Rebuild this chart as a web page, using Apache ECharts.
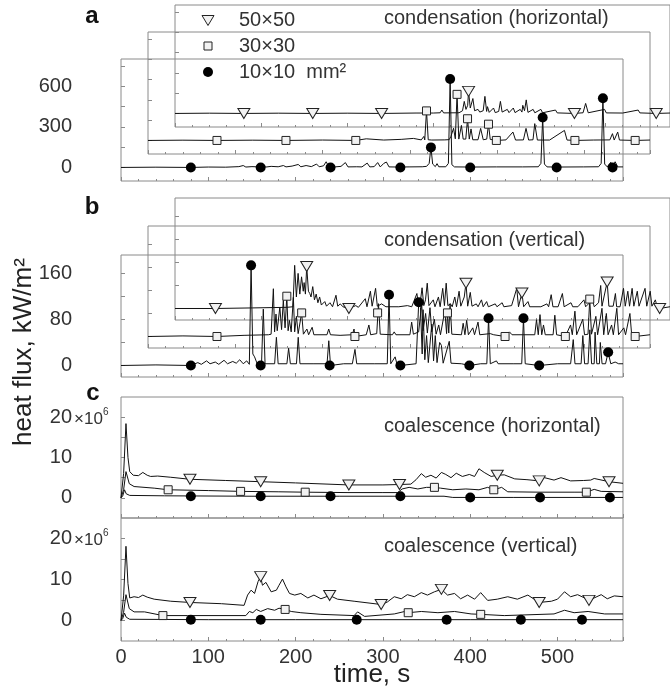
<!DOCTYPE html>
<html>
<head>
<meta charset="utf-8">
<script src="https://cdn.jsdelivr.net/npm/echarts@6/dist/echarts.min.js"></script>
<style>
  html, body { margin: 0; padding: 0; background: #fff; }
  #chart { width: 670px; height: 688px; }
</style>
</head>
<body>
<div id="chart"></div>
<script>
// tick labels
const aLabels = [0, 300, 600];
const bLabels = [0, 80, 160];
const cLabels = [0, 10, 20];
const aTicks = [0, 150, 300, 450, 600, 750];
const bTicks = [0, 40, 80, 120, 160];
const cTicks = [0, 5, 10, 15, 20];
const sizeNames = ['50×50', '30×30', '10×10  mm²'];

// a: condensation (horizontal)  [time s, kW/m2]
const condH10 = [[0,0],[40,2],[80,0],[100,3],[120,2],[135,6],[140,14],[143,3],[150,6],[158,4],[163,12],[166,3],[172,8],[180,5],[186,14],[189,4],[196,10],[203,22],[206,5],[212,14],[218,6],[224,25],[227,5],[232,12],[235,42],[238,6],[245,4],[252,8],[257,36],[260,4],[270,5],[276,4],[282,32],[285,4],[290,6],[294,36],[297,4],[301,30],[304,40],[307,4],[318,3],[330,4],[345,5],[350,8],[353,30],[355,148],[357,25],[360,6],[362,28],[364,5],[372,5],[375,30],[377,652],[379,20],[382,4],[400,3],[430,4],[460,4],[478,5],[481,30],[483,368],[485,25],[488,4],[500,3],[530,4],[547,5],[550,30],[552,510],[554,25],[557,4],[561,38],[563,4],[566,42],[569,4],[575,4]];
const condH10Marks = [[80,0],[160,0],[240,0],[320,0],[355,148],[377,652],[400,0],[483,368],[499,0],[552,510],[563,0]];
const condH30 = [[0,0],[40,2],[79,0],[120,2],[158,0],[200,3],[238,0],[250,12],[252,2],[270,3],[290,8],[292,2],[304,15],[306,2],[313,4],[316,30],[317,4],[319,218],[321,5],[325,3],[340,4],[345,6],[347,30],[350,90],[352,12],[354,340],[356,10],[359,111],[361,10],[364,10],[366,160],[368,10],[370,85],[372,5],[378,5],[381,89],[384,5],[388,10],[390,120],[392,8],[399,0],[410,4],[418,62],[421,3],[430,4],[433,89],[436,3],[441,5],[443,124],[446,3],[460,3],[477,74],[480,3],[489,0],[510,3],[529,4],[532,50],[534,3],[536,4],[538,62],[540,3],[558,0],[575,3]];
const condH30Marks = [[79,0],[158,0],[238,0],[319,218],[354,340],[366,160],[390,120],[399,0],[489,0],[558,0]];
const condH50 = [[0,0],[40,2],[80,0],[120,2],[160,0],[200,2],[240,0],[280,3],[300,3],[308,5],[310,25],[312,4],[330,5],[334,20],[336,89],[338,30],[340,60],[341,163],[343,40],[346,110],[348,20],[352,30],[354,10],[358,20],[360,126],[362,15],[363,50],[365,8],[370,40],[372,6],[376,15],[378,89],[380,10],[386,30],[388,6],[393,40],[395,6],[401,30],[403,10],[404,60],[406,20],[408,100],[410,8],[416,30],[418,5],[425,30],[427,5],[442,25],[444,4],[464,0],[474,5],[477,74],[480,5],[499,30],[501,4],[520,3],[538,25],[540,4],[559,0],[575,3]];
const condH50Marks = [[80,0],[160,0],[240,0],[341,163],[464,0],[559,0]];

// b: condensation (vertical)  [time s, kW/m2]
const condV10 = [[0,0],[40,1],[80,0],[88,5],[92,2],[98,8],[102,3],[108,6],[112,2],[118,9],[122,3],[128,7],[132,4],[136,10],[140,3],[144,8],[147,2],[149,174],[151,20],[153,15],[156,3],[160,0],[161,4],[163,98],[165,3],[176,3],[178,49],[180,3],[190,3],[192,30],[194,3],[201,3],[203,49],[205,3],[220,3],[236,3],[238,43],[240,0],[255,3],[265,3],[268,28],[270,3],[290,3],[305,3],[307,123],[309,3],[314,15],[316,3],[320,0],[338,3],[341,110],[343,101],[345,20],[346,97],[348,10],[350,52],[352,5],[356,72],[358,8],[360,52],[362,5],[365,40],[367,35],[369,4],[376,42],[378,4],[390,3],[399,0],[412,3],[419,3],[421,82],[423,3],[430,8],[432,3],[450,3],[459,3],[461,82],[463,3],[479,0],[500,3],[515,3],[518,45],[520,3],[527,3],[529,52],[531,3],[535,3],[537,62],[539,3],[542,3],[543,58],[545,3],[548,3],[549,40],[551,3],[555,3],[558,23],[561,3],[566,6],[570,3],[575,3]];
const condV10Marks = [[80,0],[149,174],[160,0],[239,0],[307,123],[320,0],[341,110],[399,0],[421,82],[461,82],[479,0],[558,23]];
const condV30 = [[0,0],[40,1],[79,0],[110,2],[138,3],[141,4],[143.6,83],[145,8],[146.6,39],[148,10],[151,51],[153,12],[155,63],[157,15],[159,70],[160.5,10],[162,28],[164,8],[166.5,68],[168,8],[170,35],[172,5],[176,41],[178,4],[182,13],[184,3],[188,16],[190,3],[205,3],[207,13],[209,3],[220,2],[234,3],[236,13],[237,0],[250,3],[253,20],[255,3],[262,5],[264,57],[266,4],[280,3],[282,8],[284,3],[300,3],[302,25],[304,4],[310,8],[313.5,57],[315,10],[318,40],[320,6],[323,50],[325,8],[328,30],[330,4],[333,20],[335,3],[340,45],[342,5],[343,41],[344.5,6],[346,57],[348,4],[359,3],[361,23],[363,3],[365,28],[367,3],[372,15],[374,3],[378,25],[380,3],[392,5],[396,3],[409,0],[414,8],[417,3],[443,3],[445,29],[447,3],[449,38],[451,3],[453,20],[455,3],[464,3],[466,37],[468,3],[478,0],[484,20],[486,3],[489,44],[491,3],[498,30],[500,3],[504,4],[506,65],[508,4],[513,35],[515,3],[520,49],[522,3],[525,40],[527,3],[531,20],[533,3],[537,49],[539,3],[545,15],[547,3],[552,40],[554,3],[558,0],[575,3]];
const condV30Marks = [[79,0],[159,70],[176,41],[237,0],[263,41],[343,41],[409,0],[478,0],[506,65],[558,0]];
const condV50 = [[0,0],[47,0],[90,1],[130,2],[137,3],[139,75],[141,20],[143,61],[145,25],[147,55],[149,30],[150,45],[151.5,25],[153,73],[155,30],[156.6,26],[158,20],[160,38],[162,15],[164,25],[166,10],[168,20],[170,6],[174,12],[176,4],[180,10],[183,3],[187,23],[189,4],[192,8],[195,3],[202,0],[210,5],[213,2],[221,17],[223,3],[227,30],[229,4],[233,35],[235,4],[240,8],[245,3],[260,3],[270,5],[275,3],[281,26],[283,4],[285,12],[287,36],[289,5],[291,15],[293,44],[295,5],[300,15],[302,3],[306,20],[308,3],[311,35],[313,5],[315,44],[317,5],[320,8],[322,3],[325,20],[327,3],[330,30],[332,4],[336,20],[338,44],[340,4],[343,28],[345,4],[350,8],[352,3],[356,15],[358,3],[362,12],[364,3],[372,8],[374,3],[380,10],[382,3],[391,5],[393,3],[397,35],[399,3],[403,27],[405,3],[410,12],[412,3],[425,3],[432,8],[434,3],[437,24],[439,3],[445,3],[450,26],[452,3],[460,10],[462,3],[468,3],[475,15],[477,3],[485,15],[487,3],[492,10],[494.5,40],[496,4],[502,46],[504,4],[509,4],[511.6,26],[513,3],[517,3],[521,35],[523,4],[526,30],[528,4],[531,35],[533,4],[537,30],[539,4],[546,35],[548,4],[552,30],[554,4],[558,15],[560,3],[563,0],[575,3]];
const condV50Marks = [[47,0],[153,73],[202,0],[338,44],[403,27],[502,46],[563,0]];

// c: coalescence  [time s, x10^6]
const coalH10 = [[0,0],[2,0.5],[4,2],[6,1],[10,0.6],[50,0.5],[150,0.4],[250,0.4],[320,0.4],[370,0.4],[380,0.1],[450,0.1],[575,0.1]];
const coalH10Marks = [[80,0.4],[160,0.4],[240,0.4],[320,0.4],[400,0.1],[480,0.1],[560,0.1]];
const coalH30 = [[0,0],[3,2],[5.7,6.5],[9.5,3.5],[15,2.8],[38,2.4],[54,2.0],[100,1.8],[137,1.6],[180,1.5],[211,1.4],[260,1.3],[300,1.3],[317,1.3],[322,2.2],[330,2.6],[340,2.2],[350,2.6],[359,2.6],[366,2.4],[380,2.0],[395,2.2],[410,2.0],[420,2.6],[427,2.0],[436,2.6],[443,1.5],[480,1.4],[520,1.4],[533,1.4],[542,2.1],[550,1.6],[575,1.5]];
const coalH30Marks = [[54,2.0],[137,1.6],[211,1.4],[359,2.6],[427,2.0],[533,1.4]];
const coalH50 = [[0,0],[3,6],[5.7,18.4],[8,10],[10,6.5],[14,5.6],[20,5.5],[25,6.3],[30,5.6],[34,5.3],[42,5.4],[57,5.1],[79,4.6],[120,4.3],[160,4.0],[200,3.7],[261,3.2],[300,3.2],[319,3.3],[332,3.4],[338,4.5],[344,6.0],[349,5.1],[355,5.6],[361,4.9],[367,6.3],[372,5.8],[378,5.0],[384,6.1],[391,5.3],[399,5.8],[405,5.3],[410,7.2],[416,6.3],[424,5.3],[431,5.6],[439,5.7],[451,4.7],[465,4.5],[479,4.2],[485,5.0],[496,4.4],[504,5.0],[515,4.2],[530,4.3],[538,4.4],[542,4.8],[559,4.0],[575,3.6]];
const coalH50Marks = [[79,4.6],[160,4.0],[261,3.2],[319,3.3],[431,5.6],[479,4.2],[559,4.0]];
const coalV10 = [[0,0],[2,0.5],[4,1.8],[6,0.8],[10,0.3],[100,0.2],[200,0.2],[300,0.2],[400,0.2],[500,0.2],[575,0.2]];
const coalV10Marks = [[80,0.2],[160,0.2],[270,0.2],[373,0.2],[458,0.2],[528,0.2]];
const coalV30 = [[0,0],[3,2],[5.7,6.3],[9.5,2.9],[15,2.1],[27,2.1],[48,1.2],[76,1.2],[143,1.2],[147,2.2],[151,1.9],[155,2.7],[160,2.2],[168,2.9],[176,2.5],[181,3.0],[188,2.7],[195,2.2],[206,1.9],[229,1.5],[267,1.2],[271,2.1],[279,1.0],[313,1.6],[325,2.2],[329,1.9],[344,2.2],[363,1.9],[382,2.2],[401,1.6],[412,1.5],[439,1.2],[496,1.6],[508,2.5],[519,1.9],[535,2.2],[554,1.6],[575,1.6]];
const coalV30Marks = [[48,1.2],[188,2.7],[329,1.9],[412,1.5]];
const coalV50 = [[0,0],[3,6],[5.7,18.1],[8,9],[10,5.5],[15,5.8],[20,5.6],[25,6.2],[30,5.7],[38,5.2],[57,4.7],[79,4.4],[115,4.1],[141,3.7],[145,6.2],[149,7.4],[153,6.6],[157,9.5],[160,10.7],[162,8.6],[166,9.3],[172,7.0],[178,7.4],[181,8.6],[185,10.1],[189,8.2],[193,6.6],[199,6.2],[206,6.6],[214,5.5],[221,6.2],[229,5.3],[239,6.1],[248,5.2],[267,4.7],[298,3.9],[305,4.5],[313,5.8],[321,5.3],[328,6.3],[336,5.8],[344,6.8],[351,6.2],[359,7.0],[367,7.6],[374,6.2],[382,6.6],[389,5.3],[397,6.2],[405,5.2],[412,6.8],[420,4.9],[431,5.2],[443,5.8],[454,5.2],[466,6.2],[479,4.4],[493,4.7],[500,5.2],[508,7.0],[515,5.8],[523,6.3],[531,5.5],[536,4.9],[550,6.3],[557,5.3],[565,6.0],[575,5.8]];
const coalV50Marks = [[79,4.4],[160,10.7],[239,6.1],[298,3.9],[367,7.6],[479,4.4],[536,4.9]];

const FONT = 'Liberation Sans, Arial, sans-serif';
const INK = '#111';
const FRAME = '#8a8a8a';

const chart = echarts.init(document.getElementById('chart'), null, { renderer: 'canvas' });

// grids: 0-2 panel a (back, middle, front), 3-5 panel b, 6-7 panel c
const grids = [
  { left: 175, top: 5, width: 502, height: 122 },
  { left: 148, top: 32, width: 502, height: 122 },
  { left: 121, top: 59, width: 502, height: 122 },
  { left: 175, top: 198, width: 502, height: 122 },
  { left: 148, top: 226, width: 502, height: 122 },
  { left: 121, top: 255, width: 502, height: 122 },
  { left: 121, top: 397, width: 502, height: 121 },
  { left: 121, top: 518, width: 502, height: 123 }
].map(g => Object.assign(g, { show: true, borderColor: FRAME, borderWidth: 1, containLabel: false }));

const xAxes = grids.map((g, i) => ({
  type: 'value', gridIndex: i, min: 0, max: 575, interval: 100,
  axisLine: { show: false, onZero: false },
  axisTick: { inside: true, length: 4, lineStyle: { color: FRAME } },
  minorTick: { show: true, splitNumber: 5, length: 2, lineStyle: { color: FRAME } },
  splitLine: { show: false },
  axisLabel: { show: i === 7, margin: 6, fontSize: 20, color: '#333', fontFamily: FONT,
    showMaxLabel: false }
}));

function yAxis(i, min, max, ticks, labels, showLabel) {
  return {
    type: 'value', gridIndex: i, min: min, max: max,
    axisLine: { show: false, onZero: false },
    axisTick: { inside: true, length: 4, customValues: ticks, lineStyle: { color: FRAME } },
    splitLine: { show: false },
    axisLabel: { show: showLabel, customValues: labels, margin: 49, fontSize: 20, color: '#333', fontFamily: FONT }
  };
}
const yAxes = [
  yAxis(0, -100, 800, aTicks, aLabels, false),
  yAxis(1, -100, 800, aTicks, aLabels, false),
  yAxis(2, -100, 800, aTicks, aLabels, true),
  yAxis(3, -20, 192, bTicks, bLabels, false),
  yAxis(4, -20, 192, bTicks, bLabels, false),
  yAxis(5, -20, 192, bTicks, bLabels, true),
  yAxis(6, -5, 25, cTicks, cLabels, true),
  yAxis(7, -5, 25, cTicks, cLabels, true)
];

const markStyle = {
  triangle: { symbol: 'triangle', symbolRotate: 180, symbolSize: [12, 10],
    itemStyle: { color: '#f2f2f2', borderColor: '#222', borderWidth: 1, opacity: 1 } },
  square: { symbol: 'rect', symbolSize: 8,
    itemStyle: { color: '#f2f2f2', borderColor: '#222', borderWidth: 1, opacity: 1 } },
  circle: { symbol: 'circle', symbolSize: 10,
    itemStyle: { color: '#000', borderWidth: 0, opacity: 1 } }
};

const series = [];
function addPair(data, marks, gi, kind) {
  series.push({
    type: 'line', data: data, xAxisIndex: gi, yAxisIndex: gi,
    showSymbol: false, symbol: 'none', silent: true, z: 2,
    lineStyle: { color: INK, width: 1 }
  });
  series.push(Object.assign({
    type: 'scatter', data: marks, xAxisIndex: gi, yAxisIndex: gi, silent: true, z: 3
  }, markStyle[kind]));
}
addPair(condH50, condH50Marks, 0, 'triangle');
addPair(condH30, condH30Marks, 1, 'square');
addPair(condH10, condH10Marks, 2, 'circle');
addPair(condV50, condV50Marks, 3, 'triangle');
addPair(condV30, condV30Marks, 4, 'square');
addPair(condV10, condV10Marks, 5, 'circle');
addPair(coalH50, coalH50Marks, 6, 'triangle');
addPair(coalH30, coalH30Marks, 6, 'square');
addPair(coalH10, coalH10Marks, 6, 'circle');
addPair(coalV50, coalV50Marks, 7, 'triangle');
addPair(coalV30, coalV30Marks, 7, 'square');
addPair(coalV10, coalV10Marks, 7, 'circle');

function txt(x, y, text, size, extra) {
  return { type: 'text', x: x, y: y, silent: true, z: 10,
    style: Object.assign({ text: text, fontSize: size, fontFamily: FONT, fill: '#333',
      align: 'left', verticalAlign: 'middle' }, extra || {}) };
}

const graphic = [
  txt(92, 16, 'a', 24, { fontWeight: 'bold', fill: '#111', align: 'center' }),
  txt(92, 207, 'b', 24, { fontWeight: 'bold', fill: '#111', align: 'center' }),
  txt(93, 393, 'c', 24, { fontWeight: 'bold', fill: '#111', align: 'center' }),
  txt(384, 18, 'condensation (horizontal)', 20),
  txt(384, 240, 'condensation (vertical)', 20),
  txt(384, 426, 'coalescence (horizontal)', 20),
  txt(384, 546, 'coalescence (vertical)', 20),
  // legend
  { type: 'polygon', silent: true, z: 10, shape: { points: [[202, 15.5], [214, 15.5], [208, 25.5]] },
    style: { fill: '#f2f2f2', stroke: '#222', lineWidth: 1 } },
  { type: 'rect', silent: true, z: 10, shape: { x: 204, y: 42, width: 8, height: 8 },
    style: { fill: '#f2f2f2', stroke: '#222', lineWidth: 1 } },
  { type: 'circle', silent: true, z: 10, shape: { cx: 208, cy: 72, r: 5 }, style: { fill: '#000' } },
  txt(239, 20, sizeNames[0], 20),
  txt(239, 46, sizeNames[1], 20),
  txt(239, 72, sizeNames[2], 20),
  // x10^6 on the 20 labels
  txt(74, 419, '×10', 17),
  txt(103, 412, '6', 10),
  txt(74, 540, '×10', 17),
  txt(103, 533, '6', 10),
  // axis names
  txt(372, 675, 'time, s', 26, { align: 'center', fill: '#222' }),
  { type: 'text', x: 24, y: 352, rotation: Math.PI / 2, silent: true, z: 10,
    style: { text: 'heat flux, kW/m²', fontSize: 26, fontFamily: FONT, fill: '#222',
      align: 'center', verticalAlign: 'middle' } }
];

chart.setOption({
  animation: false,
  backgroundColor: '#fff',
  grid: grids,
  xAxis: xAxes,
  yAxis: yAxes,
  series: series,
  graphic: graphic
});
window.addEventListener('resize', chart.resize);
</script>
</body>
</html>
